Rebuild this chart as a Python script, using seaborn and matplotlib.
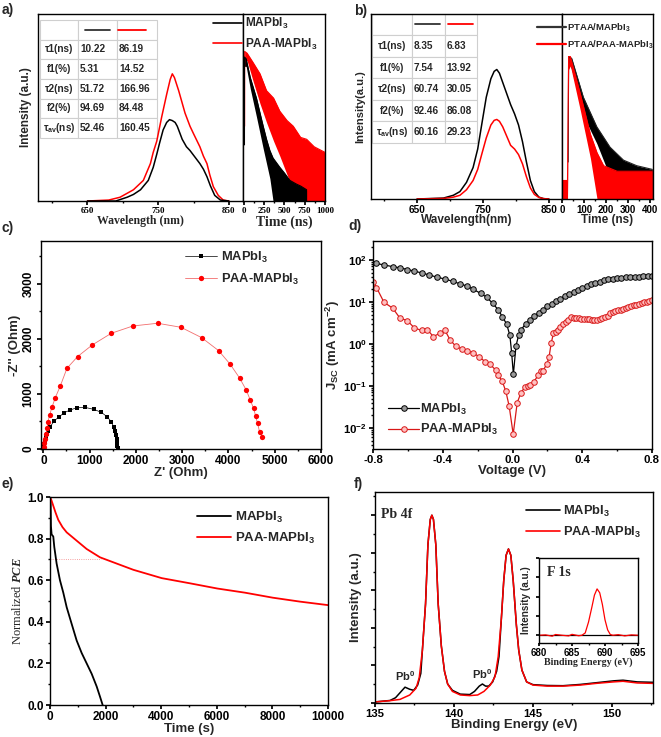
import matplotlib
matplotlib.use("Agg")
import matplotlib.pyplot as plt
import seaborn as sns
from matplotlib.table import Table
from matplotlib.lines import Line2D
from matplotlib.ticker import MultipleLocator, AutoMinorLocator, NullFormatter, LogLocator

# ---- data ----
# a) steady-state PL
pla_wl_blk = [650, 690, 706, 715, 725, 736, 743, 748, 752, 757, 762, 766, 770, 774, 777, 784, 790, 795, 800, 805, 809, 814, 819, 824, 830, 838, 850]
pla_blk = [0, 0, 0.02, 0.035, 0.06, 0.11, 0.18, 0.25, 0.31, 0.38, 0.42, 0.435, 0.43, 0.42, 0.40, 0.33, 0.29, 0.27, 0.245, 0.22, 0.20, 0.17, 0.13, 0.08, 0.03, 0.005, 0]
pla_wl_red = [650, 680, 696, 715, 729, 739, 743, 748, 755, 762, 767, 770, 773, 779, 788, 795, 800, 809, 814, 819, 823, 828, 835, 842, 850]
pla_red = [0, 0.005, 0.02, 0.06, 0.11, 0.20, 0.26, 0.32, 0.45, 0.57, 0.65, 0.68, 0.66, 0.59, 0.47, 0.40, 0.36, 0.29, 0.24, 0.20, 0.14, 0.077, 0.03, 0.005, 0]
# a) TRPL envelopes (noisy bands)
tra_t_red = [10, 10.5, 41, 115, 200, 280, 367, 444, 533, 609, 700, 774, 867, 1000]
tra_red_hi = [0.40, 0.80, 0.79, 0.74, 0.68, 0.59, 0.55, 0.48, 0.43, 0.40, 0.34, 0.33, 0.29, 0.26]
tra_red_lo = [0, 0.75, 0.75, 0.64, 0.52, 0.42, 0.32, 0.24, 0.14, 0.06, 0.0, 0, 0, 0]
tra_t_blk = [8, 8.5, 29, 80, 156, 200, 239, 280, 321, 360, 444, 500, 568, 650, 700, 774]
tra_blk_hi = [0.30, 0.77, 0.76, 0.66, 0.55, 0.47, 0.40, 0.33, 0.27, 0.23, 0.18, 0.15, 0.11, 0.09, 0.08, 0.06]
tra_blk_lo = [0, 0.72, 0.72, 0.60, 0.45, 0.36, 0.28, 0.20, 0.12, 0, 0, 0, 0, 0, 0, 0]
tab_rows = ["τ1(ns)", "f1(%)", "τ2(ns)", "f2(%)", "τ$_{av}$(ns)"]
taba_blk = ["10.22", "5.31", "51.72", "94.69", "52.46"]
taba_red = ["86.19", "14.52", "166.96", "84.48", "160.45"]

# b) PTAA films
plb_wl_blk = [650, 690, 705, 715, 725, 735, 742, 748, 755, 762, 767, 771, 775, 780, 786, 792, 798, 804, 810, 816, 822, 828, 835, 842, 850]
plb_blk = [0, 0.005, 0.02, 0.04, 0.09, 0.17, 0.27, 0.40, 0.55, 0.65, 0.69, 0.70, 0.68, 0.63, 0.57, 0.51, 0.46, 0.40, 0.31, 0.20, 0.10, 0.04, 0.01, 0.002, 0]
plb_wl_red = [650, 690, 705, 715, 725, 735, 742, 748, 755, 762, 767, 771, 775, 780, 786, 792, 798, 804, 810, 816, 822, 828, 835, 842, 850]
plb_red = [0, 0.003, 0.01, 0.02, 0.05, 0.10, 0.16, 0.24, 0.33, 0.40, 0.425, 0.43, 0.42, 0.39, 0.34, 0.29, 0.27, 0.24, 0.19, 0.12, 0.06, 0.025, 0.008, 0.002, 0]
trb_t_blk = [28, 30, 44, 97, 158, 218, 279, 339, 410]
trb_blk_hi = [0.20, 0.77, 0.76, 0.55, 0.39, 0.28, 0.21, 0.18, 0.16]
trb_blk_lo = [0, 0.74, 0.70, 0.45, 0.30, 0.12, 0.02, 0, 0]
trb_t_red = [2, 25, 30, 38, 83, 129, 159, 189, 250, 410]
trb_red_hi = [0.10, 0.10, 0.77, 0.77, 0.57, 0.35, 0.25, 0.18, 0.15, 0.15]
trb_red_lo = [0, 0, 0.70, 0.72, 0.48, 0.22, 0, 0, 0, 0]
tabb_blk = ["8.35", "7.54", "60.74", "92.46", "60.16"]
tabb_red = ["6.83", "13.92", "30.05", "86.08", "29.23"]

# c) Nyquist
eis_zre_blk = [0, 8, 20, 35, 55, 80, 110, 151, 237, 331, 453, 583, 727, 893, 1087, 1253, 1375, 1469, 1519, 1548, 1570, 1585, 1594, 1600, 1604]
eis_zim_blk = [0, 40, 90, 150, 210, 270, 335, 406, 515, 576, 661, 709, 752, 758, 721, 667, 588, 497, 406, 330, 250, 175, 110, 50, 10]
eis_zre_red = [0, 10, 22, 38, 58, 80, 101, 137, 187, 259, 367, 511, 741, 1058, 1469, 1937, 2469, 2974, 3420, 3787, 4039, 4240, 4384, 4471, 4543, 4586, 4629, 4672, 4730]
eis_zim_red = [0, 40, 110, 190, 280, 380, 497, 618, 758, 933, 1145, 1467, 1680, 1891, 2103, 2236, 2285, 2212, 2024, 1788, 1539, 1291, 1073, 891, 739, 606, 467, 315, 224]

# d) dark J-V
jv_v_blk = [-0.785, -0.737, -0.687, -0.645, -0.603, -0.563, -0.521, -0.479, -0.435, -0.387, -0.344, -0.302, -0.263, -0.225, -0.183, -0.149, -0.114, -0.082, -0.059, -0.034, -0.015, -0.005, 0.005, 0.02, 0.035,
            0.05, 0.075, 0.1, 0.125, 0.15, 0.175, 0.2, 0.225, 0.25, 0.275, 0.3, 0.325, 0.35, 0.375, 0.4, 0.425, 0.45, 0.475, 0.5, 0.525, 0.55, 0.575, 0.6, 0.625, 0.65, 0.675, 0.7, 0.725, 0.75, 0.775, 0.8]
jv_j_blk = [83, 76, 69, 65, 59, 54, 49, 44, 39, 35, 31, 27, 24, 20, 16, 13, 9.3, 6.5, 4.5, 3.0, 1.6, 0.62, 0.19, 0.9, 1.6,
            2.2, 3.0, 3.7, 4.6, 5.5, 6.6, 7.8, 9.0, 10.3, 12.0, 13.8, 15.6, 17.5, 19.3, 21, 23.5, 26, 28, 30, 32.5, 34.5, 36, 37, 38, 39, 39.5, 40, 40, 40.5, 40.5, 40.5]
jv_v_red = [-0.798, -0.78, -0.737, -0.687, -0.645, -0.603, -0.563, -0.521, -0.489, -0.454, -0.416, -0.387, -0.358, -0.324, -0.291, -0.263, -0.228, -0.192, -0.158, -0.129, -0.097, -0.082, -0.059, -0.038, -0.019, 0.004, 0.027, 0.048, 0.071, 0.09, 0.1, 0.122, 0.147, 0.162, 0.175, 0.198, 0.21, 0.222, 0.235, 0.25, 0.262, 0.275, 0.29, 0.305, 0.32, 0.335, 0.35, 0.365, 0.38, 0.395, 0.41, 0.425, 0.44, 0.455, 0.47, 0.485, 0.5, 0.515, 0.53, 0.545, 0.56, 0.575, 0.59, 0.605, 0.62, 0.635, 0.65, 0.665, 0.68, 0.695, 0.71, 0.725, 0.74, 0.755, 0.77, 0.785, 0.8]
jv_j_red = [30, 22, 9.8, 7.1, 4.1, 3.6, 2.4, 2.1, 2.2, 1.5, 1.8, 2.1, 1.25, 0.87, 0.76, 0.69, 0.62, 0.50, 0.38, 0.33, 0.24, 0.18, 0.13, 0.074, 0.033, 0.0071, 0.04, 0.068, 0.095, 0.10, 0.105, 0.125, 0.18, 0.23, 0.23, 0.34, 0.5, 1.05, 1.8, 1.9, 2.2, 2.6, 3.0, 3.4, 3.8, 4.3, 4.2, 4.1, 4.1, 4.0, 4.0, 3.9, 4.0, 3.8, 3.7, 3.7, 3.9, 4.1, 4.3, 4.6, 5.6, 5.9, 6.1, 6.3, 6.6, 6.9, 7.3, 7.6, 8.0, 8.3, 8.6, 9.0, 9.4, 9.8, 10.2, 10.7, 11.2]

# e) stability
pce_t_blk = [0, 22, 34, 58, 118, 154, 238, 358, 478, 600, 779, 959, 1139, 1319, 1499, 1679, 1799, 1894]
pce_blk = [1.0, 0.98, 0.86, 0.82, 0.81, 0.76, 0.68, 0.60, 0.54, 0.47, 0.39, 0.31, 0.25, 0.20, 0.15, 0.089, 0.04, 0.0]
pce_t_red = [0, 50, 100, 200, 298, 450, 600, 780, 959, 1319, 1799, 2398, 2998, 4017, 5036, 6019, 7014, 8010, 8993, 10012]
pce_red = [1.0, 0.985, 0.965, 0.925, 0.89, 0.855, 0.83, 0.81, 0.79, 0.75, 0.71, 0.68, 0.65, 0.61, 0.585, 0.56, 0.54, 0.516, 0.497, 0.48]

# f) XPS Pb 4f
xps_be_red = [135.0, 135.95, 136.58, 137.2, 137.6, 137.8, 138.0, 138.2, 138.35, 138.5, 138.6, 138.7, 138.85, 139.0, 139.2, 139.4, 139.6, 139.9, 140.4, 141.0, 141.5, 141.9, 142.3, 142.6, 142.8, 143.0, 143.15, 143.3, 143.45, 143.6, 143.75, 143.95, 144.1, 144.3, 144.6, 145.0, 145.9, 146.9, 148.0, 149.0, 150.1, 150.7, 151.6, 152.6]
xps_red = [0.005, 0.011, 0.017, 0.038, 0.07, 0.12, 0.25, 0.47, 0.75, 0.87, 0.89, 0.87, 0.75, 0.47, 0.27, 0.15, 0.09, 0.055, 0.038, 0.035, 0.038, 0.055, 0.085, 0.125, 0.22, 0.40, 0.58, 0.70, 0.73, 0.70, 0.58, 0.37, 0.25, 0.156, 0.10, 0.085, 0.08, 0.08, 0.085, 0.093, 0.10, 0.103, 0.095, 0.093]
xps_be_blk = [135.0, 135.95, 136.3, 136.6, 136.9, 137.2, 137.45, 137.7, 137.9, 138.0, 138.2, 138.35, 138.5, 138.6, 138.7, 138.85, 139.0, 139.2, 139.4, 139.6, 139.9, 140.4, 141.0, 141.3, 141.6, 141.8, 142.0, 142.2, 142.45, 142.7, 142.85, 143.0, 143.15, 143.3, 143.45, 143.6, 143.75, 143.95, 144.1, 144.3, 144.6, 145.0, 145.9, 146.9, 148.0, 149.0, 150.1, 150.7, 151.6, 152.6]
xps_blk = [0.005, 0.012, 0.025, 0.05, 0.075, 0.065, 0.06, 0.085, 0.14, 0.25, 0.47, 0.75, 0.87, 0.89, 0.87, 0.75, 0.47, 0.27, 0.15, 0.09, 0.06, 0.042, 0.04, 0.055, 0.08, 0.09, 0.08, 0.08, 0.1, 0.15, 0.22, 0.40, 0.58, 0.70, 0.73, 0.70, 0.58, 0.37, 0.25, 0.156, 0.10, 0.087, 0.083, 0.082, 0.088, 0.096, 0.105, 0.108, 0.1, 0.098]
# f) inset F 1s
f1s_be_red = [680, 681, 682, 682.5, 683.5, 684.5, 685, 686, 686.5, 687, 687.5, 688, 688.4, 688.8, 689.2, 689.6, 690, 690.4, 690.8, 691.2, 692, 693, 694, 695]
f1s_red = [0, 0.005, -0.012, 0.01, 0, -0.008, 0.012, -0.006, 0, 0.03, 0.17, 0.36, 0.52, 0.60, 0.55, 0.40, 0.20, 0.07, 0.01, 0, 0.008, -0.008, 0.005, 0]
f1s_be_blk = [680, 695]
f1s_blk = [0, 0]

BLK = "#000000"
RED = "#ff0000"

sns.set_theme(style="ticks")
plt.rcParams.update({
    "font.family": ["Liberation Sans", "DejaVu Sans"],
    "font.weight": "bold",
    "axes.labelweight": "bold",
    "mathtext.fontset": "custom",
    "mathtext.rm": "Liberation Sans:bold",
    "mathtext.bf": "Liberation Sans:bold",
    "mathtext.it": "Liberation Serif:italic",
    "mathtext.default": "bf",
    "axes.linewidth": 1.0,
    "axes.edgecolor": "black",
    "xtick.direction": "out",
    "ytick.direction": "out",
    "xtick.major.size": 3,
    "ytick.major.size": 3,
    "xtick.minor.size": 1.6,
    "ytick.minor.size": 1.6,
    "xtick.major.pad": 1.5,
    "ytick.major.pad": 1.5,
    "xtick.color": "black",
    "ytick.color": "black",
    "legend.frameon": False,
})

W, H = 661, 737


def rect(l, t, r, b):
    return [l / W, 1 - b / H, (r - l) / W, (b - t) / H]


def fx(px):
    return px / W


def fy(py):
    return 1 - py / H


def draw_table(ax, bbox, vals_blk, vals_red, colw, fs, head_y, blk_x, red_x):
    cells = [["", "", ""]] + [[r, b, c] for r, b, c in zip(tab_rows, vals_blk, vals_red)]
    tb = Table(ax, bbox=bbox)
    for i, row in enumerate(cells):
        for j, txt in enumerate(row):
            cell = tb.add_cell(i, j, width=colw[j], height=1 / len(cells), text=txt,
                               loc="center" if j == 0 else "left",
                               facecolor="white", edgecolor="#cfcfcf")
            cell.set_linewidth(0.8)
            cell.PAD = 0.05
            cell.get_text().set_fontweight("bold")
    tb.auto_set_font_size(False)
    tb.set_fontsize(fs)
    ax.add_table(tb)
    ax.plot(blk_x, [head_y, head_y], transform=ax.transAxes, color="#333333", lw=1.3)
    ax.plot(red_x, [head_y, head_y], transform=ax.transAxes, color=RED, lw=1.3)


fig = plt.figure(figsize=(6.61, 7.37), dpi=100)
serif = ["Liberation Serif", "DejaVu Serif"]
TICK = 8.5
LAB = 9.5
LEG = 9.3

# ---------- a ----------
ax_a = fig.add_axes(rect(38, 14, 243, 201))
ax_a2 = fig.add_axes(rect(243, 14, 325, 201))
sns.lineplot(x=pla_wl_red, y=pla_red, ax=ax_a, color=RED, lw=1.1, estimator=None)
sns.lineplot(x=pla_wl_blk, y=pla_blk, ax=ax_a, color=BLK, lw=1.1, estimator=None)
ax_a.set_xlim(580, 870)
ax_a.set_ylim(0, 1)
ax_a.set_yticks([])
ax_a.set_xticks([650, 750, 850])
ax_a.xaxis.set_minor_locator(MultipleLocator(50))
for lab in ax_a.get_xticklabels():
    lab.set_fontfamily(serif)
ax_a.tick_params(axis="x", labelsize=6.5)
ax_a.set_xlabel("Wavelength (nm)", fontsize=8.5, family=serif, labelpad=0)
ax_a.set_ylabel("Intensity (a.u.)", fontsize=8.5, labelpad=4)
draw_table(ax_a, [0.01, 0.337, 0.571, 0.631], taba_blk, taba_red, [38, 39, 40], 7.2,
           0.914, [0.229, 0.351], [0.39, 0.527])

ax_a2.fill_between(tra_t_red, tra_red_lo, tra_red_hi, color=RED, lw=0)
sns.lineplot(x=tra_t_red, y=tra_red_hi, ax=ax_a2, color=RED, lw=0.8, estimator=None)
ax_a2.fill_between(tra_t_blk, tra_blk_lo, tra_blk_hi, color=BLK, lw=0)
sns.lineplot(x=tra_t_blk, y=tra_blk_hi, ax=ax_a2, color=BLK, lw=0.8, estimator=None)
ax_a2.set_xlim(-10, 1000)
ax_a2.set_ylim(0, 1)
ax_a2.set_yticks([])
ax_a2.set_xticks([0, 250, 500, 750, 1000])
ax_a2.xaxis.set_minor_locator(MultipleLocator(125))
for lab in ax_a2.get_xticklabels():
    lab.set_fontfamily(serif)
ax_a2.tick_params(axis="x", labelsize=6.5)
ax_a2.set_xlabel("Time (ns)", fontsize=10, family=serif, labelpad=0)
fig.legend([Line2D([], [], color=BLK, lw=1.2), Line2D([], [], color=RED, lw=1.2)],
           ["MAPbI$_3$", "PAA-MAPbI$_3$"], loc="upper left",
           bbox_to_anchor=(fx(213), fy(16)), borderpad=0, borderaxespad=0,
           handlelength=2.4, handletextpad=0.3, labelspacing=0.45, fontsize=8.6)

# ---------- b ----------
ax_b = fig.add_axes(rect(371, 14, 562, 199))
ax_b2 = fig.add_axes(rect(562, 14, 653, 199))
sns.lineplot(x=plb_wl_blk, y=plb_blk, ax=ax_b, color=BLK, lw=1.1, estimator=None)
sns.lineplot(x=plb_wl_red, y=plb_red, ax=ax_b, color=RED, lw=1.1, estimator=None)
ax_b.set_xlim(580, 870)
ax_b.set_ylim(0, 1)
ax_b.set_yticks([])
ax_b.set_xticks([650, 750, 850])
ax_b.xaxis.set_minor_locator(MultipleLocator(50))
ax_b.tick_params(axis="x", labelsize=7.2)
ax_b.set_xlabel("Wavelength(nm)", fontsize=8.5, labelpad=-1)
ax_b.set_ylabel("Intensity(a.u.)", fontsize=8, labelpad=4)
draw_table(ax_b, [0.005, 0.303, 0.55, 0.697], tabb_blk, tabb_red, [40, 33, 32], 7.2,
           0.946, [0.23, 0.36], [0.403, 0.534])

ax_b2.fill_between(trb_t_blk, trb_blk_lo, trb_blk_hi, color=BLK, lw=0)
sns.lineplot(x=trb_t_blk, y=trb_blk_hi, ax=ax_b2, color="#222222", lw=0.8, estimator=None)
ax_b2.fill_between(trb_t_red, trb_red_lo, trb_red_hi, color=RED, lw=0)
sns.lineplot(x=trb_t_red, y=trb_red_hi, ax=ax_b2, color=RED, lw=0.8, estimator=None)
ax_b2.set_xlim(0, 413)
ax_b2.set_ylim(0, 1)
ax_b2.set_yticks([])
ax_b2.set_xticks([0, 100, 200, 300, 400])
ax_b2.xaxis.set_minor_locator(MultipleLocator(50))
ax_b2.tick_params(axis="x", labelsize=7)
ax_b2.set_xlabel("Time (ns)", fontsize=8.5, labelpad=-1)
fig.legend([Line2D([], [], color="#333333", lw=1.6), Line2D([], [], color=RED, lw=1.6)],
           ["PTAA/MAPbI$_3$", "PTAA/PAA-MAPbI$_3$"], loc="upper left",
           bbox_to_anchor=(fx(537), fy(21)), borderpad=0, borderaxespad=0,
           handlelength=3.1, handletextpad=0.1, labelspacing=0.5, fontsize=6.8)

# ---------- c ----------
ax_c = fig.add_axes(rect(41, 241, 321, 449))
sns.lineplot(x=eis_zre_blk, y=eis_zim_blk, ax=ax_c, color=BLK, lw=0.5, sort=False, estimator=None,
             marker="s", markersize=3.3, markeredgewidth=0, markerfacecolor=BLK)
sns.lineplot(x=eis_zre_red, y=eis_zim_red, ax=ax_c, color="#f26d6d", lw=0.6, sort=False, estimator=None,
             marker="o", markersize=3.8, markeredgewidth=0, markerfacecolor=RED)
ax_c.set_xlim(-50, 6000)
ax_c.set_ylim(0, 3780)
ax_c.set_xticks(range(0, 6001, 1000))
ax_c.set_yticks([0, 1000, 2000, 3000])
ax_c.xaxis.set_minor_locator(MultipleLocator(500))
ax_c.yaxis.set_minor_locator(MultipleLocator(500))
ax_c.tick_params(labelsize=TICK)
for lab in ax_c.get_yticklabels():
    lab.set_rotation(90)
    lab.set_va("center")
ax_c.set_xlabel("Z' (Ohm)", fontsize=LAB, labelpad=0)
ax_c.set_ylabel("-Z'' (Ohm)", fontsize=LAB, labelpad=1)
ax_c.legend([Line2D([], [], color=BLK, lw=0.5, marker="s", ms=3.3, mew=0),
             Line2D([], [], color="#f26d6d", lw=0.6, marker="o", ms=3.8, mew=0, mfc=RED)],
            ["MAPbI$_3$", "PAA-MAPbI$_3$"], loc="upper left",
            bbox_to_anchor=(fx(185), fy(250)), bbox_transform=fig.transFigure,
            borderpad=0, borderaxespad=0, handlelength=2.5, handletextpad=0.3,
            labelspacing=0.5, fontsize=LEG)

# ---------- d ----------
ax_d = fig.add_axes(rect(373, 241, 652, 449))
sns.lineplot(x=jv_v_blk, y=jv_j_blk, ax=ax_d, color=BLK, lw=0.9, estimator=None, sort=False,
             marker="o", markersize=4, markeredgewidth=0.7, markeredgecolor=BLK, markerfacecolor="#9a9a9a")
sns.lineplot(x=jv_v_red, y=jv_j_red, ax=ax_d, color="#d81818", lw=0.9, estimator=None, sort=False,
             marker="o", markersize=4, markeredgewidth=0.7, markeredgecolor="#d81818", markerfacecolor="#ffc0c0")
ax_d.set_yscale("log")
ax_d.set_xlim(-0.8, 0.8)
ax_d.set_ylim(10 ** -2.5, 10 ** 2.45)
ax_d.set_xticks([-0.8, -0.4, 0.0, 0.4, 0.8])
ax_d.set_xticklabels(["-0.8", "-0.4", "0.0", "0.4", "0.8"])
ax_d.xaxis.set_minor_locator(MultipleLocator(0.2))
ax_d.yaxis.set_major_locator(LogLocator(base=10, numticks=10))
ax_d.yaxis.set_minor_locator(LogLocator(base=10, subs=range(2, 10), numticks=12))
ax_d.yaxis.set_minor_formatter(NullFormatter())
ax_d.tick_params(labelsize=8.2)
ax_d.set_xlabel("Voltage (V)", fontsize=LAB, labelpad=0)
ax_d.set_ylabel("J$_{SC}$ (mA cm$^{-2}$)", fontsize=LAB, labelpad=1)
ax_d.legend([Line2D([], [], color=BLK, lw=0.9, marker="o", ms=4, mew=0.7, mec=BLK, mfc="#9a9a9a"),
             Line2D([], [], color="#d81818", lw=0.9, marker="o", ms=4, mew=0.7, mec="#d81818", mfc="#ffc0c0")],
            ["MAPbI$_3$", "PAA-MAPbI$_3$"], loc="upper left",
            bbox_to_anchor=(fx(388), fy(402)), bbox_transform=fig.transFigure,
            borderpad=0, borderaxespad=0, handlelength=2.4, handletextpad=0.1,
            labelspacing=0.4, fontsize=LEG)

# ---------- e ----------
ax_e = fig.add_axes(rect(50, 497, 328, 705))
ax_e.plot([0, 1850], [0.7, 0.7], color="#f28080", lw=0.6, ls=":")
sns.lineplot(x=pce_t_blk, y=pce_blk, ax=ax_e, color=BLK, lw=1.3, estimator=None)
sns.lineplot(x=pce_t_red, y=pce_red, ax=ax_e, color=RED, lw=1.3, estimator=None)
ax_e.set_xlim(0, 10000)
ax_e.set_ylim(0, 1)
ax_e.set_xticks(range(0, 10001, 2000))
ax_e.set_yticks([0, 0.2, 0.4, 0.6, 0.8, 1.0])
ax_e.set_yticklabels(["0.0", "0.2", "0.4", "0.6", "0.8", "1.0"])
ax_e.xaxis.set_minor_locator(MultipleLocator(1000))
ax_e.yaxis.set_minor_locator(MultipleLocator(0.1))
ax_e.tick_params(labelsize=TICK)
ax_e.set_xlabel("Time (s)", fontsize=LAB, labelpad=0)
ax_e.set_ylabel("Normalized $\\mathit{PCE}$", fontsize=9, family=serif, fontweight="normal", labelpad=2)
ax_e.legend([Line2D([], [], color=BLK, lw=1.3), Line2D([], [], color=RED, lw=1.3)],
            ["MAPbI$_3$", "PAA-MAPbI$_3$"], loc="upper left",
            bbox_to_anchor=(fx(197), fy(510)), bbox_transform=fig.transFigure,
            borderpad=0, borderaxespad=0, handlelength=2.6, handletextpad=0.3,
            labelspacing=0.45, fontsize=9.5)

# ---------- f ----------
ax_f = fig.add_axes(rect(375, 492, 653, 703))
sns.lineplot(x=xps_be_blk, y=xps_blk, ax=ax_f, color=BLK, lw=1.1, estimator=None)
sns.lineplot(x=xps_be_red, y=xps_red, ax=ax_f, color=RED, lw=1.1, estimator=None)
ax_f.set_xlim(135, 152.6)
ax_f.set_ylim(0, 1)
ax_f.set_xticks([135, 140, 145, 150])
ax_f.xaxis.set_minor_locator(MultipleLocator(2.5))
ax_f.yaxis.set_major_locator(MultipleLocator(0.178))
ax_f.yaxis.set_minor_locator(AutoMinorLocator(2))
ax_f.yaxis.set_major_formatter(NullFormatter())
ax_f.tick_params(labelsize=8.2)
ax_f.set_xlabel("Binding Energy (eV)", fontsize=LAB, labelpad=0)
ax_f.set_ylabel("Intensity (a.u.)", fontsize=LAB, labelpad=4)
ax_f.text(0.02, 0.925, "Pb 4f", transform=ax_f.transAxes, family=serif, fontsize=10, va="top")
ax_f.text(136.9, 0.095, "Pb$^0$", fontsize=8, ha="center", va="bottom")
ax_f.text(141.8, 0.105, "Pb$^0$", fontsize=8, ha="center", va="bottom")
ax_f.legend([Line2D([], [], color=BLK, lw=1.2), Line2D([], [], color=RED, lw=1.2)],
            ["MAPbI$_3$", "PAA-MAPbI$_3$"], loc="upper left",
            bbox_to_anchor=(fx(526), fy(504)), bbox_transform=fig.transFigure,
            borderpad=0, borderaxespad=0, handlelength=2.6, handletextpad=0.3,
            labelspacing=0.45, fontsize=LEG)

ax_in = fig.add_axes(rect(539, 558, 638, 643))
sns.lineplot(x=f1s_be_blk, y=f1s_blk, ax=ax_in, color=BLK, lw=0.9, estimator=None)
sns.lineplot(x=f1s_be_red, y=f1s_red, ax=ax_in, color=RED, lw=0.9, estimator=None)
ax_in.set_xlim(680, 695)
ax_in.set_ylim(-0.1, 1.0)
ax_in.set_xticks([680, 685, 690, 695])
ax_in.xaxis.set_minor_locator(MultipleLocator(2.5))
ax_in.yaxis.set_major_locator(MultipleLocator(0.25))
ax_in.yaxis.set_major_formatter(NullFormatter())
ax_in.tick_params(labelsize=7, length=2)
ax_in.set_xlabel("Binding Energy (eV)", fontsize=7.2, family=serif, labelpad=0)
ax_in.set_ylabel("Intensity (a.u.)", fontsize=7.2, labelpad=2)
ax_in.text(0.08, 0.9, "F 1s", transform=ax_in.transAxes, family=serif, fontsize=10, va="top")

# panel letters
for lab, x, y in [("a)", 2, 3), ("b)", 354, 4), ("c)", 2, 221), ("d)", 348, 219), ("e)", 2, 477), ("f)", 354, 477)]:
    fig.text(fx(x), fy(y), lab, fontsize=10, va="top", ha="left")

fig.savefig("out.png", dpi=100, facecolor="white")
